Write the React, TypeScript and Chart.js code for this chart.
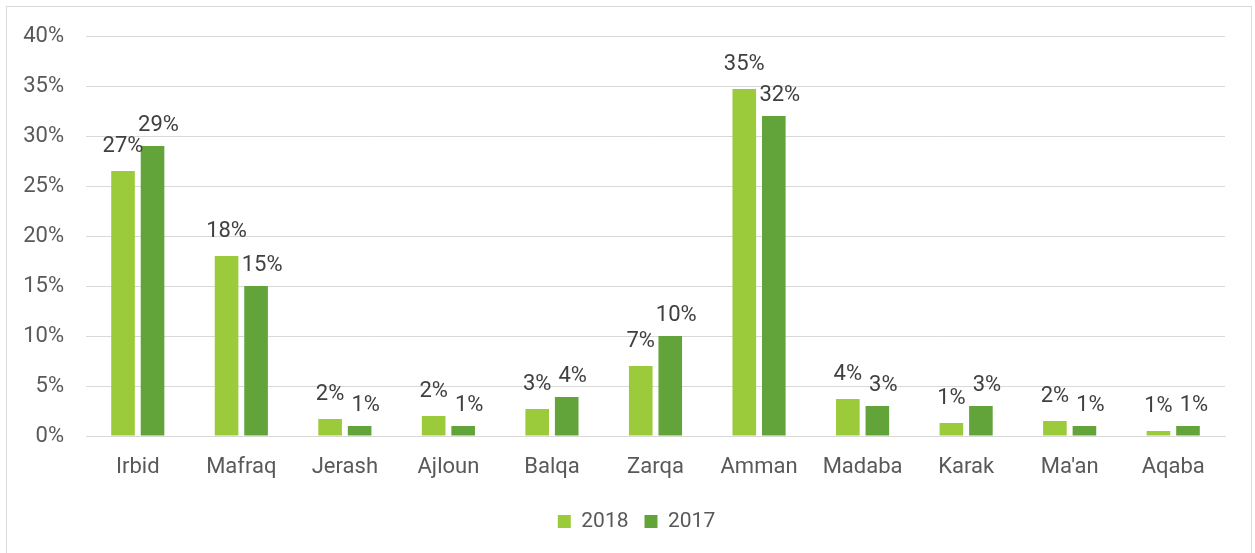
import React, { useEffect, useRef } from "react";
import { Chart, registerables } from "chart.js";

Chart.register(...registerables);

const categories = ["Irbid", "Mafraq", "Jerash", "Ajloun", "Balqa", "Zarqa", "Amman", "Madaba", "Karak", "Ma'an", "Aqaba"];
const values2018 = [26.5, 18.0, 1.7, 2.0, 2.7, 7.0, 34.7, 3.7, 1.3, 1.5, 0.5];
const values2017 = [29.0, 15.0, 1.0, 1.0, 3.9, 10.0, 32.0, 3.0, 3.0, 1.0, 1.0];
const seriesNames = ["2018", "2017"];
const seriesColors = ["#9BCB3B", "#62A43A"];

const FONT = "Roboto";
const TEXT = "#595959";

const dataLabelPlugin = {
  id: "dataLabels",
  afterDatasetsDraw(chart: any) {
    const ctx = chart.ctx;
    ctx.save();
    ctx.font = `22px ${FONT}`;
    ctx.fillStyle = "#404040";
    ctx.textAlign = "center";
    ctx.textBaseline = "middle";
    chart.data.datasets.forEach((ds: any, di: number) => {
      const meta = chart.getDatasetMeta(di);
      meta.data.forEach((bar: any, i: number) => {
        const v = ds.data[i];
        const dx = di === 1 ? 6 : 0;
        const dy = di === 1 ? 21 : 25;
        ctx.fillText(Math.round(v) + "%", bar.x + dx, bar.y - dy);
      });
    });
    ctx.restore();
  },
};

const legendShiftPlugin = {
  id: "legendShift",
  afterLayout(chart: any) {
    const lg = chart.legend;
    if (lg) {
      lg.left += 24;
      lg.right += 24;
    }
  },
};

export default function App() {
  const ref = useRef<HTMLCanvasElement>(null);
  useEffect(() => {
    const chart = new Chart(ref.current!, {
      type: "bar",
      data: {
        labels: categories,
        datasets: [
          { label: seriesNames[0], data: values2018, backgroundColor: seriesColors[0] },
          { label: seriesNames[1], data: values2017, backgroundColor: seriesColors[1] },
        ],
      },
      options: {
        animation: false,
        responsive: false,
        maintainAspectRatio: false,
        datasets: { bar: { categoryPercentage: 0.57, barPercentage: 0.8 } } as any,
        layout: { padding: { left: 0, right: 30, top: 36, bottom: 11 } },
        plugins: {
          tooltip: { enabled: false },
          legend: {
            position: "bottom",
            labels: {
              font: { family: FONT, size: 21 },
              color: TEXT,
              boxWidth: 13,
              boxHeight: 13,
              padding: 16,
            },
          },
        },
        scales: {
          x: {
            grid: { display: false, drawTicks: false },
            border: { display: true, color: "#d9d9d9", width: 1 },
            ticks: { font: { family: FONT, size: 22 }, color: TEXT, padding: 18, maxRotation: 0 },
            afterFit: (s: any) => { s.height = 59; },
          },
          y: {
            min: 0,
            max: 40,
            ticks: {
              stepSize: 5,
              font: { family: FONT, size: 22 },
              color: TEXT,
              padding: 22,
              callback: (v: any) => v + "%",
            },
            grid: { color: "#d9d9d9", lineWidth: 1, drawTicks: false },
            border: { display: false },
            afterFit: (s: any) => { s.width = 86; },
          },
        },
      },
      plugins: [dataLabelPlugin, legendShiftPlugin],
    });
    return () => chart.destroy();
  }, []);
  return (
    <div style={{ position: "absolute", left: 0, top: 0, width: 1255, height: 553, overflow: "hidden", background: "#fff" }}>
      <div style={{ position: "absolute", left: 6, top: 6, width: 1246, height: 600, border: "1px solid #d9d9d9", boxSizing: "border-box" }} />
      <canvas ref={ref} width={1255} height={553} style={{ position: "absolute", left: 0, top: 0, width: 1255, height: 553 }} />
    </div>
  );
}
